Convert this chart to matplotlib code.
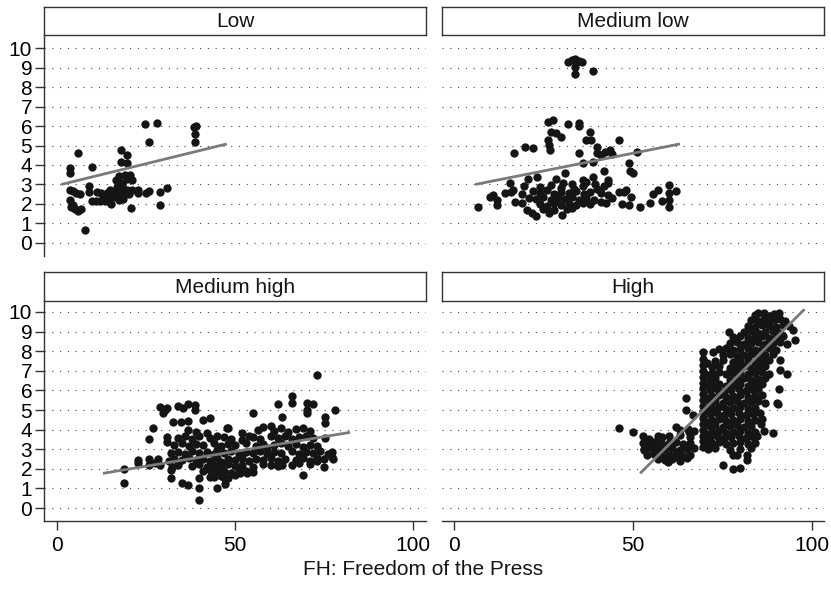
import numpy as np
import matplotlib
matplotlib.use("Agg")
import matplotlib.pyplot as plt

plt.rcParams["font.family"] = ["Liberation Sans", "DejaVu Sans"]

# ----------------------------- DATA -----------------------------
PANELS = ["Low", "Medium low", "Medium high", "High"]
XLABEL = "FH: Freedom of the Press"
YTICKS = list(range(0, 11))
XTICKS = [0, 50, 100]

LOW = [
    (3.7, 3.83), (3.7, 3.57), (3.7, 2.72), (5.8, 4.6), (3.7, 2.2), (3.9, 1.85), (4.5, 1.95),
    (5.0, 1.75), (5.8, 1.62), (6.8, 1.72), (5.2, 2.55), (6.4, 2.5), (4.6, 2.65), (7.9, 0.67),
    (9.9, 3.91), (9.0, 2.9), (9.0, 2.6), (11.1, 2.6), (9.8, 2.15), (11.0, 2.15), (12.2, 2.15),
    (13.4, 2.15), (13.0, 2.45), (14.0, 2.55), (14.9, 2.25), (15.3, 2.0), (15.8, 2.6), (16.3, 2.35),
    (16.8, 2.88), (16.9, 2.55), (17.3, 2.2), (17.8, 2.7), (18.2, 2.95), (18.5, 2.4), (19.1, 2.6),
    (19.6, 2.72), (20.2, 2.5), (21.0, 2.72), (16.5, 3.25), (17.4, 3.45), (18.2, 3.1), (19.1, 3.5),
    (19.8, 3.3), (20.5, 3.5), (21.2, 3.25), (17.9, 4.77), (17.9, 4.17), (19.8, 4.5), (19.8, 4.09),
    (20.8, 1.78), (22.8, 2.7), (22.8, 2.55), (24.9, 2.58), (25.8, 2.65), (24.7, 6.09), (25.9, 5.18),
    (28.0, 6.17), (28.9, 2.6), (28.9, 1.95), (30.8, 2.8), (38.6, 5.95), (39.0, 6.02), (38.9, 5.6),
    (38.9, 5.2), (15.0, 2.7), (12.5, 2.55), (14.2, 2.15), (18.6, 2.25),
]

MEDIUM_LOW = [
    (31.9, 9.3), (33.0, 9.4), (33.8, 9.42), (34.8, 9.33), (35.8, 9.3), (33.8, 9.04), (33.8, 8.67),
    (38.9, 8.82), (26.3, 6.22), (27.7, 6.31), (31.9, 6.1), (35.0, 6.17), (35.0, 6.0), (27.1, 5.7),
    (28.5, 5.62), (30.0, 5.45), (38.0, 5.7), (37.0, 5.3), (38.2, 5.3), (26.3, 5.28), (26.5, 5.03),
    (26.7, 4.77), (46.1, 5.3), (16.8, 4.6), (19.8, 4.94), (22.0, 4.89), (35.0, 4.6), (39.9, 4.94),
    (40.0, 4.6), (41.0, 4.5), (42.3, 4.67), (43.5, 4.75), (44.0, 4.55), (51.0, 4.67), (35.9, 4.09),
    (38.9, 4.14), (49.0, 4.09), (49.3, 3.71), (50.1, 3.57), (42.0, 3.71), (43.1, 3.23), (43.1, 3.06),
    (47.5, 2.63), (31.0, 3.57), (37.0, 3.14), (38.9, 3.4), (23.1, 3.4), (20.8, 3.26), (15.6, 3.06),
    (16.6, 2.72), (28.5, 3.3), (30.5, 3.1), (33.0, 3.0), (36.0, 3.25), (39.5, 3.0), (41.8, 2.9),
    (19.5, 2.9), (24.0, 2.85), (27.0, 2.95), (30.0, 2.8), (33.5, 2.75), (36.0, 2.9), (40.0, 2.75),
    (10.0, 2.37), (11.0, 2.46), (14.2, 2.55), (16.0, 2.6), (19.0, 2.5), (22.0, 2.65), (24.0, 2.55),
    (26.0, 2.7), (28.0, 2.5), (30.0, 2.6), (32.0, 2.55), (34.0, 2.65), (36.2, 2.5), (38.0, 2.6),
    (41.0, 2.55), (43.0, 2.45), (46.0, 2.6), (48.0, 2.7), (55.5, 2.5), (57.0, 2.7), (60.1, 2.97),
    (62.0, 2.68), (60.1, 2.55), (12.0, 2.2), (17.0, 2.12), (18.9, 2.03), (21.0, 2.3), (23.0, 2.25),
    (25.0, 2.35), (27.0, 2.2), (29.0, 2.3), (31.0, 2.25), (33.0, 2.35), (35.0, 2.2), (37.0, 2.3),
    (39.0, 2.2), (44.0, 2.3), (49.5, 2.35), (54.7, 2.05), (58.0, 2.15), (60.1, 2.2), (6.8, 1.86),
    (12.0, 1.95), (20.3, 1.69), (21.7, 1.52), (22.9, 1.38), (24.0, 2.0), (26.0, 1.9), (28.0, 2.05),
    (30.0, 1.95), (32.0, 2.0), (34.0, 1.95), (36.0, 2.05), (38.0, 2.0), (41.0, 2.1), (42.5, 2.05),
    (47.0, 2.0), (49.0, 1.95), (52.0, 1.86), (60.1, 1.86), (25.0, 1.75), (28.0, 1.7), (30.1, 1.44),
    (31.5, 1.75), (33.0, 1.8), (26.5, 1.55),
]

MEDIUM_HIGH = [
    (18.8, 1.97), (18.8, 1.29), (22.8, 2.45), (22.8, 2.31), (25.9, 3.52), (26.9, 4.07), (25.9, 2.5),
    (25.9, 2.2), (27.5, 2.3), (28.5, 2.5), (28.9, 2.2), (28.9, 5.17), (30.3, 5.0), (29.9, 4.83),
    (30.8, 5.1), (30.8, 3.64), (31.0, 3.38), (31.5, 2.4), (31.9, 1.94), (31.9, 1.51), (32.3, 2.1),
    (32.7, 4.37), (34.1, 5.2), (35.0, 1.26), (36.9, 1.17), (34.7, 4.37), (36.9, 4.45), (35.5, 5.1),
    (36.9, 5.3), (38.9, 5.25), (38.9, 5.0), (41.1, 4.49), (43.0, 4.59), (40.0, 1.51), (40.0, 1.0),
    (40.0, 0.41), (43.0, 1.57), (45.0, 1.0), (47.2, 1.25), (47.2, 1.5), (48.1, 4.07), (51.4, 1.77),
    (53.3, 1.77), (55.1, 4.86), (62.2, 5.31), (63.1, 4.66), (65.9, 5.71), (65.9, 5.34), (70.1, 5.34),
    (72.0, 5.3), (70.1, 5.0), (70.1, 4.83), (73.1, 6.79), (78.1, 5.0), (75.3, 4.63), (75.3, 4.32),
    (69.0, 1.68), (75.0, 2.11), (77.2, 2.85), (77.2, 2.6), (73.0, 3.15), (73.0, 2.4), (63.1, 2.19),
    # band around 4
    (36.9, 3.98), (39.0, 3.89), (42.0, 3.81), (47.7, 4.07), (51.9, 3.81), (54.0, 3.67), (56.5, 3.98),
    (58.0, 4.15), (60.0, 4.2), (61.0, 3.95), (63.0, 4.1), (65.0, 3.9), (67.0, 4.05), (69.0, 4.1),
    (71.0, 3.95), (75.3, 3.56),
    # band around 3.6
    (34.0, 3.55), (36.0, 3.7), (38.0, 3.5), (40.0, 3.65), (43.0, 3.55), (45.0, 3.7), (47.0, 3.6),
    (49.0, 3.5), (52.0, 3.45), (55.0, 3.6), (57.0, 3.5), (60.0, 3.65), (62.0, 3.55), (64.0, 3.7),
    (66.0, 3.5), (68.0, 3.6), (70.0, 3.7), (72.0, 3.55),
    # band around 3.2
    (33.0, 3.2), (35.0, 3.3), (37.0, 3.15), (39.0, 3.25), (41.0, 3.2), (44.0, 3.3), (46.0, 3.15),
    (48.0, 3.25), (50.0, 3.2), (53.0, 3.3), (56.0, 3.15), (58.0, 3.25), (59.0, 3.05), (61.0, 3.2),
    (63.0, 3.3), (65.0, 3.15), (67.0, 3.25), (69.0, 3.1), (71.0, 3.2),
    # band around 2.8
    (32.0, 2.8), (34.0, 2.85), (36.0, 2.75), (38.0, 2.9), (40.0, 2.8), (42.0, 2.85), (44.0, 2.75),
    (45.0, 2.95), (47.0, 2.8), (49.0, 2.9), (51.0, 2.75), (53.0, 2.85), (55.0, 2.8), (57.0, 2.9),
    (59.0, 2.75), (61.0, 2.85), (63.0, 2.8), (66.0, 2.9), (68.0, 2.75), (70.0, 2.85), (72.0, 2.8),
    (74.0, 2.9), (76.0, 2.75),
    # band around 2.5
    (33.0, 2.5), (35.0, 2.45), (37.0, 2.55), (39.0, 2.45), (41.0, 2.5), (43.0, 2.4), (45.0, 2.55),
    (46.0, 2.35), (48.0, 2.5), (50.0, 2.45), (52.0, 2.55), (54.0, 2.4), (56.0, 2.5), (58.0, 2.45),
    (60.0, 2.55), (62.0, 2.4), (64.0, 2.5), (67.0, 2.45), (69.0, 2.55), (71.0, 2.4), (73.0, 2.55),
    (75.0, 2.5), (77.5, 2.5),
    # band around 2.2
    (34.0, 2.2), (38.0, 2.15), (40.0, 2.25), (42.0, 2.1), (44.0, 2.2), (46.0, 2.1), (48.0, 2.25),
    (50.0, 2.15), (52.0, 2.2), (55.0, 2.1), (58.0, 2.25), (60.0, 2.2), (62.0, 2.15), (66.0, 2.2),
    (68.0, 2.3), (71.0, 2.25),
    # lower fringe
    (41.0, 1.9), (43.0, 1.95), (45.0, 1.85), (47.0, 1.9), (49.0, 1.8), (51.0, 1.95), (53.0, 1.9),
    (55.0, 1.85), (44.0, 1.6), (46.0, 1.65), (48.0, 1.55), (50.0, 1.7),
]

HIGH = [
    (46.1, 4.07), (49.9, 3.89), (52.9, 3.7), (52.9, 3.3), (53.0, 2.95), (54.5, 3.5), (56.0, 3.1),
    (57.0, 3.3), (58.0, 3.6), (59.9, 2.36), (62.7, 2.62), (65.0, 2.53), (62.2, 2.87), (62.0, 4.15),
    (64.8, 5.6), (64.8, 5.0), (66.8, 4.74), (65.7, 3.89), (75.0, 2.19), (78.0, 1.97), (79.9, 2.02),
    (78.0, 2.7), (79.0, 2.7), (81.8, 2.7), (81.8, 2.45), (76.9, 9.0), (85.0, 9.93), (90.9, 9.93),
    (94.8, 9.08), (95.3, 8.57), (91.1, 7.55), (91.1, 7.04), (92.9, 6.82), (90.9, 6.06), (90.1, 5.34),
    (90.5, 5.3), (85.7, 4.27), (89.0, 3.81), (84.7, 3.7),
    # cluster below the line, 52-67
    (54.0, 3.3), (56.0, 3.35), (58.0, 3.25), (60.0, 3.3), (62.0, 3.35), (64.0, 3.25), (66.0, 3.3),
    (53.0, 3.0), (55.0, 3.05), (57.0, 2.95), (59.0, 3.0), (61.0, 3.05), (63.0, 2.95), (65.0, 3.0),
    (67.0, 3.05), (54.0, 2.7), (56.0, 2.75), (58.0, 2.65), (60.0, 2.7), (62.0, 2.75), (64.0, 2.65),
    (66.0, 2.7), (57.0, 2.5), (59.0, 2.45), (61.0, 2.5), (63.0, 2.4), (57.0, 3.7), (60.0, 3.65),
    (63.0, 3.75), (66.0, 3.6), (63.0, 4.0), (65.5, 4.05), (67.0, 3.95),
    # columns at 70
    (69.6, 3.1), (69.6, 3.4), (69.6, 3.7), (69.6, 4.0), (69.6, 4.3), (69.6, 4.6), (69.6, 4.9),
    (69.6, 5.2), (69.6, 5.5), (69.6, 5.8), (69.6, 6.1), (69.6, 6.4), (69.6, 6.7), (69.6, 7.0),
    (69.6, 7.3), (69.6, 7.6), (69.6, 7.97), (70.8, 3.3), (70.8, 3.8), (70.8, 4.4), (70.8, 5.0),
    (70.8, 5.6), (70.8, 6.2), (70.8, 6.8), (70.8, 7.4),
    # main body
    (84.0, 9.85), (86.5, 9.95), (88.0, 9.8), (89.5, 9.9),
    (83.0, 9.6), (85.0, 9.55), (86.5, 9.65), (88.0, 9.55), (89.5, 9.6), (91.0, 9.65), (92.5, 9.55),
    (82.0, 9.3), (84.0, 9.25), (86.0, 9.35), (88.0, 9.3), (90.0, 9.25), (92.0, 9.35), (93.5, 9.3),
    (81.0, 9.0), (83.0, 9.05), (85.0, 8.95), (87.0, 9.0), (89.0, 9.05), (91.0, 8.95),
    (78.0, 8.7), (80.0, 8.75), (82.0, 8.65), (84.0, 8.7), (86.0, 8.75), (88.0, 8.65), (90.0, 8.7),
    (92.0, 8.75), (77.0, 8.4), (79.0, 8.45), (81.0, 8.35), (83.0, 8.4), (85.0, 8.45), (87.0, 8.35),
    (89.0, 8.4), (91.0, 8.45), (93.0, 8.35), (74.0, 8.1), (76.0, 8.15), (78.0, 8.05), (80.0, 8.1),
    (82.0, 8.15), (84.0, 8.05), (86.0, 8.1), (88.0, 8.15), (90.0, 8.05),
    (72.3, 7.97), (75.0, 7.8), (77.0, 7.85), (79.0, 7.75), (81.0, 7.8), (83.0, 7.85), (85.0, 7.75),
    (87.0, 7.8), (89.0, 7.85), (73.0, 7.5), (75.0, 7.55), (78.0, 7.45), (80.0, 7.5), (82.0, 7.55),
    (84.0, 7.45), (86.0, 7.5), (88.0, 7.55), (72.0, 7.2), (74.0, 7.25), (77.0, 7.15), (79.0, 7.2),
    (81.0, 7.25), (83.0, 7.15), (85.0, 7.2), (87.0, 7.25),
    (72.0, 6.9), (74.0, 6.95), (76.0, 6.85), (78.0, 6.9), (80.0, 6.95), (82.0, 6.85), (84.0, 6.9),
    (86.0, 6.95), (88.0, 6.85), (71.5, 6.6), (73.0, 6.65), (77.0, 6.55), (79.0, 6.6), (81.0, 6.65),
    (83.0, 6.55), (85.0, 6.6), (87.0, 6.65), (72.0, 6.3), (74.0, 6.35), (76.0, 6.25), (78.0, 6.3),
    (80.0, 6.35), (82.0, 6.25), (84.0, 6.3), (86.0, 6.35),
    (71.5, 6.0), (73.5, 6.05), (75.5, 5.95), (77.5, 6.0), (79.5, 6.05), (81.5, 5.95), (83.5, 6.0),
    (85.0, 6.05), (72.0, 5.7), (74.0, 5.75), (76.0, 5.65), (78.0, 5.7), (80.0, 5.75), (82.0, 5.65),
    (84.0, 5.7), (86.0, 5.75), (71.5, 5.4), (73.0, 5.45), (75.0, 5.35), (77.0, 5.4), (79.0, 5.45),
    (81.0, 5.35), (83.0, 5.4), (85.0, 5.45), (87.0, 5.35),
    (72.0, 5.1), (74.0, 5.15), (76.0, 5.05), (78.0, 5.1), (80.0, 5.15), (82.0, 5.05), (84.0, 5.1),
    (71.5, 4.8), (73.5, 4.85), (75.5, 4.75), (77.5, 4.8), (79.5, 4.85), (81.5, 4.75), (83.5, 4.8),
    (85.5, 4.85), (72.0, 4.5), (74.0, 4.55), (76.0, 4.45), (78.0, 4.5), (80.0, 4.55), (82.0, 4.45),
    (84.0, 4.5), (86.0, 4.55), (71.5, 4.2), (73.0, 4.25), (75.0, 4.15), (77.0, 4.2), (79.0, 4.25),
    (81.0, 4.15), (83.0, 4.2),
    (72.0, 3.9), (74.0, 3.95), (76.0, 3.85), (78.0, 3.9), (80.0, 3.95), (82.0, 3.85), (84.0, 3.9),
    (86.5, 3.95), (71.5, 3.6), (73.5, 3.65), (75.5, 3.55), (77.5, 3.6), (79.5, 3.65), (81.5, 3.55),
    (83.5, 3.6), (72.0, 3.3), (74.0, 3.35), (76.0, 3.25), (78.0, 3.3), (80.0, 3.35), (82.0, 3.25),
    (84.0, 3.3), (71.0, 3.0), (73.0, 3.05), (77.0, 2.95), (80.0, 3.0), (83.0, 3.05),
]

# fitted line end points per panel
TREND_X = [(1.2, 47.7), (5.9, 63.1), (12.9, 82.3), (52.0, 97.9)]
TREND_Y = [(3.0, 5.08), (3.0, 5.08), (1.77, 3.86), (1.77, 10.14)]

# ----------------------------- LAYOUT -----------------------------
W, H = 831, 589


def frac(x0, y0, x1, y1):
    return [x0 / W, 1 - y1 / H, (x1 - x0) / W, (y1 - y0) / H]


COLS = [(44, 426), (442, 824)]
ROWS = [dict(strip=(7, 35), ax=(35, 256), ylim=(-0.67, 10.67)),
        dict(strip=(272, 301), ax=(301, 521), ylim=(-0.66, 10.56))]
XLIMS = [(-3.65, 103.65), (-3.35, 103.35)]
INK = "#151515"
FS = 15

fig = plt.figure(figsize=(W / 100, H / 100), dpi=100)
data = [LOW, MEDIUM_LOW, MEDIUM_HIGH, HIGH]

for k, name in enumerate(PANELS):
    r, c = divmod(k, 2)
    x0, x1 = COLS[c]
    row = ROWS[r]

    ax = fig.add_axes(frac(x0, row["ax"][0], x1, row["ax"][1]))
    pts = np.array(data[k])
    ax.scatter(pts[:, 0], pts[:, 1], s=36, color=INK, linewidths=0, zorder=3)
    ax.plot(TREND_X[k], TREND_Y[k], color="#7a7a7a", lw=2, solid_capstyle="butt", zorder=4)

    ax.set_xlim(*XLIMS[c])
    ax.set_ylim(*row["ylim"])
    ax.set_yticks(YTICKS)
    ax.set_xticks(XTICKS)
    ax.grid(axis="y", color="#444444", lw=0.8, ls=(0, (1, 6)), zorder=0)
    ax.set_facecolor("none")
    for s in ax.spines.values():
        s.set_visible(False)
        s.set_color("#333333")
        s.set_linewidth(1)
    ax.tick_params(direction="out", length=6.5, width=1, color="#333333", labelsize=FS)
    ax.tick_params(axis="y", pad=2)
    ax.tick_params(axis="x", pad=4)
    if c == 0:
        ax.spines["left"].set_visible(True)
    else:
        ax.tick_params(axis="y", left=False, labelleft=False)
    if r == 1:
        ax.spines["bottom"].set_visible(True)
    else:
        ax.tick_params(axis="x", bottom=False, labelbottom=False)

    # strip header
    sx = fig.add_axes(frac(x0, row["strip"][0], x1, row["strip"][1]))
    sx.set_xticks([])
    sx.set_yticks([])
    for s in sx.spines.values():
        s.set_color("#333333")
        s.set_linewidth(1)
    sx.text(0.5, 0.47, name, ha="center", va="center", fontsize=FS, color=INK,
            transform=sx.transAxes)

fig.text(423.5 / W, 1 - 575 / H, XLABEL, ha="center", va="baseline", fontsize=FS, color=INK)

fig.savefig("out.png", dpi=100)
